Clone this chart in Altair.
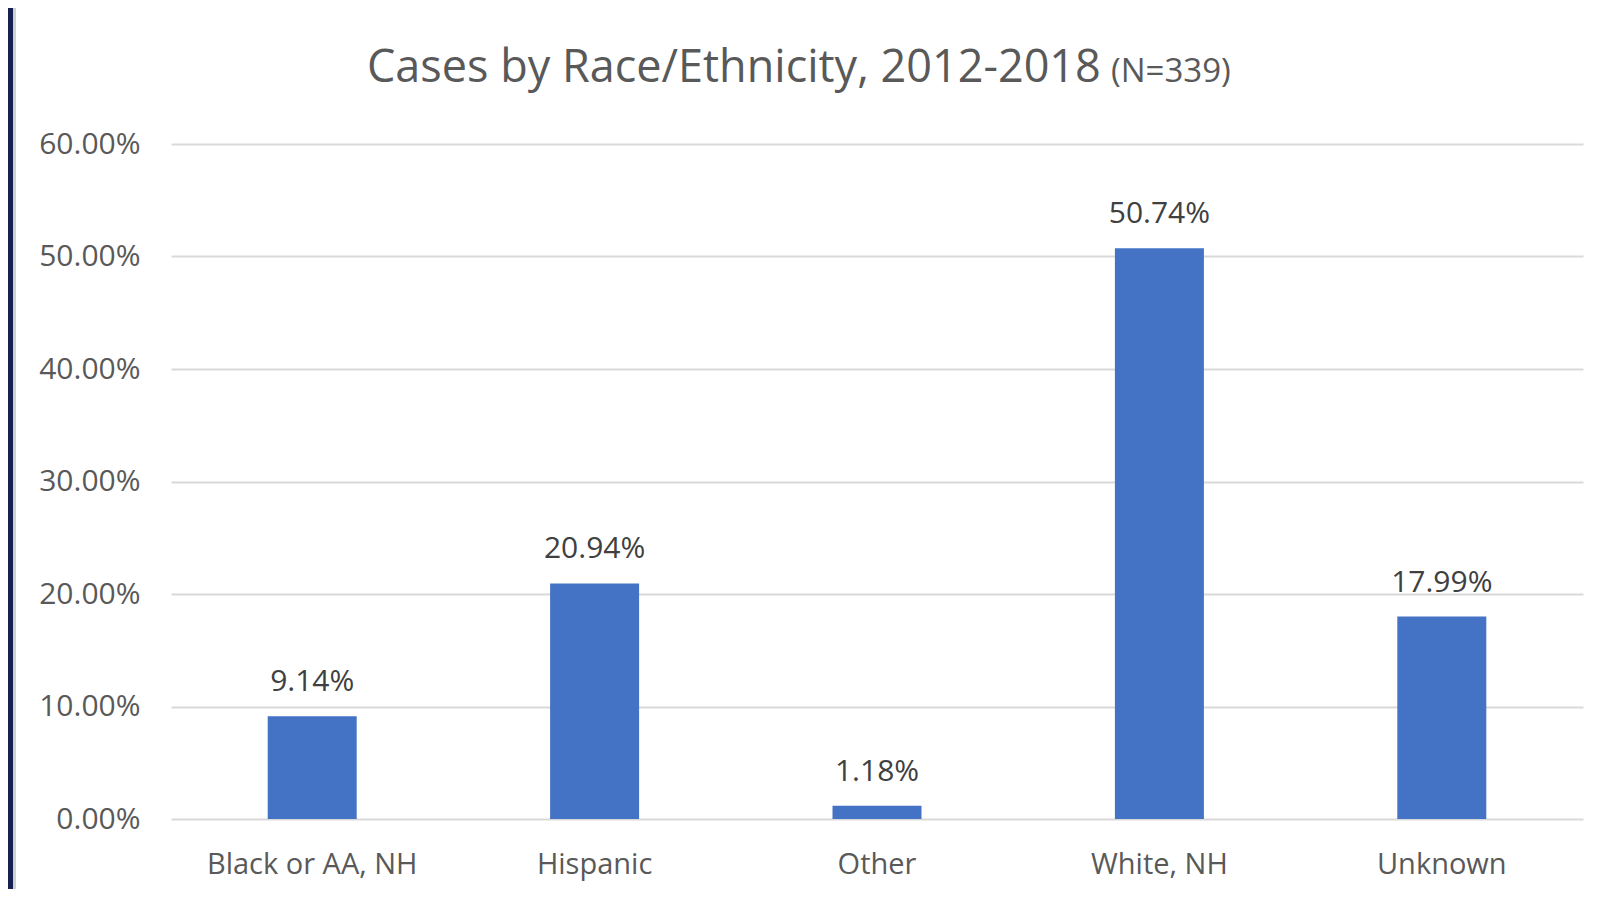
import altair as alt
import pandas as pd

categories = ["Black or AA, NH", "Hispanic", "Other", "White, NH", "Unknown"]
percents = [9.14, 20.94, 1.18, 50.74, 17.99]
y_ticks = [0.0, 0.1, 0.2, 0.3, 0.4, 0.5, 0.6]
title_main = "Cases by Race/Ethnicity, 2012-2018"
title_note = "(N=339)"

df = pd.DataFrame({"cat": categories, "share": [p / 100 for p in percents]})

FONT = "Open Sans"
GREY = "#595959"
W, H = 1412, 675
PAD_L, PAD_T, PAD_R, PAD_B = 163, 136, 20, 70

base = alt.Chart(df).encode(
    x=alt.X(
        "cat:N",
        sort=categories,
        scale=alt.Scale(paddingInner=0, paddingOuter=0),
        axis=alt.Axis(
            title=None, labelAngle=0, ticks=False, tickSize=0, domain=False,
            grid=False, labelPadding=54, labelBaseline="alphabetic",
            labelFontSize=29, labelColor=GREY, labelFont=FONT, labelLimit=0,
        ),
    ),
    y=alt.Y(
        "share:Q",
        scale=alt.Scale(domain=[0, 0.6], nice=False),
        axis=alt.Axis(
            title=None, values=y_ticks, format=".2%", grid=True,
            gridColor="#d9d9d9", gridWidth=2, domain=False, ticks=False,
            tickSize=0, labelPadding=31, labelFontSize=30, labelColor=GREY,
            labelFont=FONT,
        ),
    ),
)

bars = base.mark_bar(size=89, color="#4472C4")
labels = base.mark_text(
    dy=-25, baseline="alphabetic", fontSize=30, color="#404040", font=FONT
).encode(text=alt.Text("share:Q", format=".2%"))

t1 = alt.Chart(pd.DataFrame({"t": [title_main]})).mark_text(
    align="left", baseline="alphabetic", fontSize=45, color=GREY, font=FONT
).encode(x=alt.value(196), y=alt.value(-62), text="t:N")

t2 = alt.Chart(pd.DataFrame({"t": [title_note]})).mark_text(
    align="left", baseline="alphabetic", fontSize=33, color=GREY, font=FONT
).encode(x=alt.value(940), y=alt.value(-62), text="t:N")

# page frame: dark navy edge with a thin grey line, as in the reference
edge = alt.Chart(pd.DataFrame({"k": [0]})).mark_rect(color="#17214f").encode(
    x=alt.value(-PAD_L), x2=alt.value(-PAD_L + 5),
    y=alt.value(-PAD_T), y2=alt.value(H + PAD_B),
)
edge_line = alt.Chart(pd.DataFrame({"k": [0]})).mark_rect(color="#d0d0d0").encode(
    x=alt.value(-PAD_L + 5), x2=alt.value(-PAD_L + 8),
    y=alt.value(-PAD_T), y2=alt.value(H + PAD_B),
)

chart = alt.layer(edge, edge_line, bars, labels, t1, t2).properties(
    width=W,
    height=H,
    padding={"left": PAD_L, "top": PAD_T, "right": PAD_R, "bottom": PAD_B},
    autosize=alt.AutoSizeParams(type="none"),
    background="white",
).configure_view(strokeWidth=0)

chart.save("out.html", embed_options={"renderer": "svg", "actions": False})
